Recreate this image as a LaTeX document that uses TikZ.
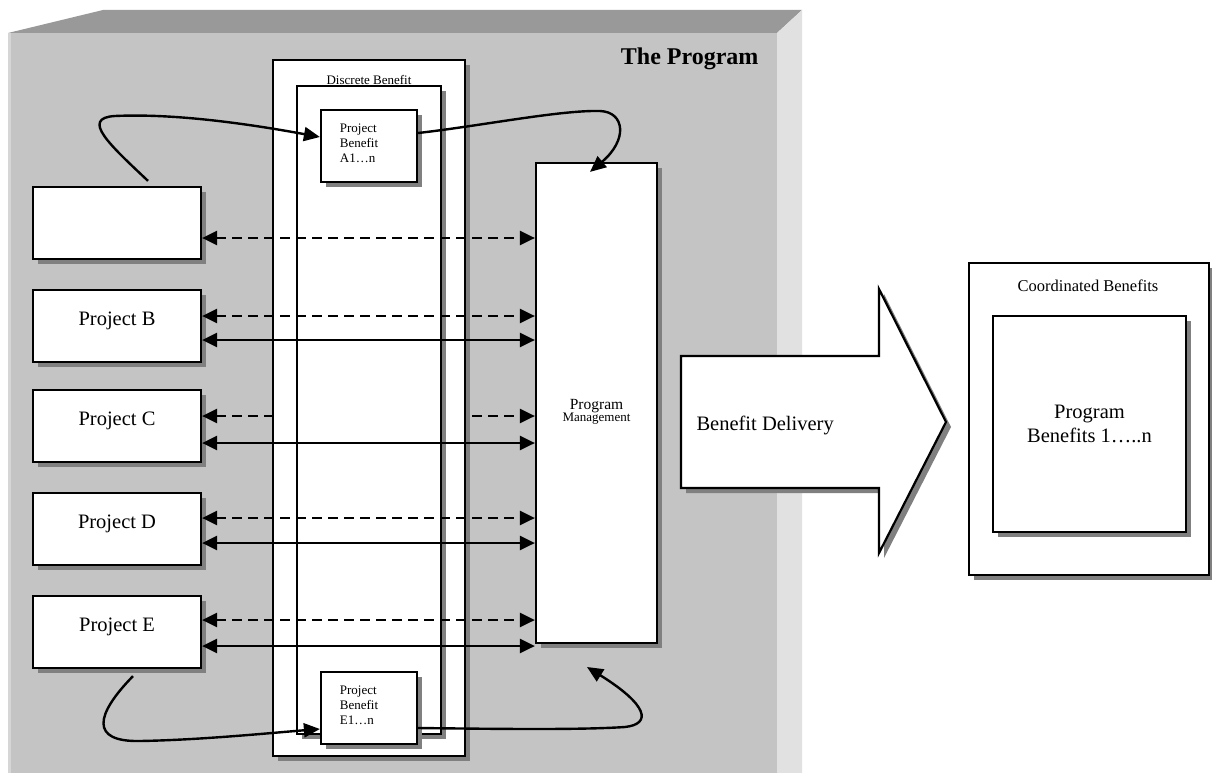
\documentclass[tikz,border=0pt]{standalone}
\usepackage{fontspec}
\setmainfont{Liberation Serif}
\usetikzlibrary{arrows.meta,shadows}

\definecolor{facegray}{RGB}{196,196,196}
\definecolor{topgray}{RGB}{153,153,153}
\definecolor{sidegray}{RGB}{225,225,225}
\definecolor{edgegray}{RGB}{214,214,214}
\definecolor{shadowgray}{RGB}{128,128,128}

\tikzset{
  boxshadow/.style={drop shadow={shadow xshift=5pt,shadow yshift=-5pt,fill=shadowgray,opacity=1}},
  whitebox/.style={draw=black,line width=2.2pt,fill=white,boxshadow,inner sep=0pt},
  projbox/.style={whitebox,minimum width=168pt,minimum height=72pt,
    text height=8pt,text depth=10pt,font=\fontsize{20.5}{24}\selectfont},
  benefitbox/.style={whitebox,minimum width=96pt,minimum height=72pt},
  smalltext/.style={font=\fontsize{13}{15}\selectfont},
  duallink/.style={line width=2.5pt,{Triangle[length=15pt,width=14pt]}-{Triangle[length=15pt,width=14pt]}},
  dashlink/.style={duallink,dash pattern=on 10pt off 6pt},
  curvelink/.style={line width=2.4pt,-{Triangle[length=16pt,width=14pt]}},
}

\begin{document}
\begin{tikzpicture}[x=1pt,y=-1pt]
\useasboundingbox (0,0) rectangle (1212,773);
\fill[white] (0,0) rectangle (1212,773);

% the program: a bevelled block
\fill[topgray] (8,33) -- (103,10) -- (802,10) -- (777,33) -- cycle;
\fill[sidegray] (777,33) -- (802,10) -- (802,773) -- (777,773) -- cycle;
\fill[facegray] (8,33) rectangle (777,773);
\fill[edgegray] (8,33) rectangle (10.5,773);
\node[font=\bfseries\fontsize{24}{28}\selectfont,anchor=base east] (title) at (762,65) {The Program};

% projects
\node[projbox] (pA) at (117,223) {};
\node[projbox] (pB) at (117,326) {Project B};
\node[projbox] (pC) at (117,426) {Project C};
\node[projbox] (pD) at (117,529) {Project D};
\node[projbox] (pE) at (117,632) {Project E};

% program management
\node[whitebox,minimum width=121pt,minimum height=480pt] (pm) at (596.5,403) {};
\node[align=center,inner sep=0pt] (pmtext) at (596.5,412)
  {\fontsize{15.5}{18}\selectfont Program\\{\fontsize{13}{16}\selectfont Management}};

% this dashed link runs beneath the benefit column
\draw[dashlink] ([yshift=10pt]pC.east) -- ([yshift=10pt]pC.east -| pm.west);

% discrete benefit column
\node[whitebox,minimum width=192pt,minimum height=696pt] (outer) at (369,408) {};
\node[whitebox,minimum width=144pt,minimum height=648pt] (inner) at (369,410) {};
\node[smalltext] (dblabel) at (369,80) {Discrete Benefit};

\node[benefitbox] (bA) at (369,146) {};
\node[smalltext,align=left,anchor=west] (bAtext) at ([xshift=16.5pt,yshift=2.5pt]bA.west) {Project\\Benefit\\A1…n};
\node[benefitbox] (bE) at (369,708) {};
\node[smalltext,align=left,anchor=west] (bEtext) at ([xshift=16.5pt,yshift=2.5pt]bE.west) {Project\\Benefit\\E1…n};

% links between projects and program management
\draw[dashlink] ([yshift=-15pt]pA.east) -- ([yshift=-15pt]pA.east -| pm.west);
\draw[dashlink] ([yshift=10pt]pB.east) -- ([yshift=10pt]pB.east -| pm.west);
\draw[duallink] ([yshift=-14pt]pB.east) -- ([yshift=-14pt]pB.east -| pm.west);
\draw[duallink] ([yshift=-17pt]pC.east) -- ([yshift=-17pt]pC.east -| pm.west);
\draw[dashlink] ([yshift=11pt]pD.east) -- ([yshift=11pt]pD.east -| pm.west);
\draw[duallink] ([yshift=-14pt]pD.east) -- ([yshift=-14pt]pD.east -| pm.west);
\draw[dashlink] ([yshift=12pt]pE.east) -- ([yshift=12pt]pE.east -| pm.west);
\draw[duallink] ([yshift=-14pt]pE.east) -- ([yshift=-14pt]pE.east -| pm.west);

% benefit flow curves
\coordinate (pmret) at (587,667);
\draw[curvelink] ([shift={(31pt,5pt)}]pA.north)
  .. controls (110,145) and (80,118) .. (115,116)
  .. controls (180,113) and (260,126) .. ([yshift=9pt]bA.west);
\draw[curvelink] ([yshift=13pt]bA.east)
  .. controls (480,126) and (560,110) .. (600,111)
  .. controls (625,112) and (628,140) .. ([shift={(-6.5pt,-10pt)}]pm.north);
\draw[curvelink] ([shift={(16pt,-7pt)}]pE.south)
  .. controls (95,715) and (90,742) .. (140,741)
  .. controls (200,740) and (270,733) .. ([yshift=-21pt]bE.west);
\draw[curvelink] ([yshift=-20pt]bE.east)
  .. controls (500,729) and (580,730) .. (625,727)
  .. controls (652,724) and (648,705) .. (pmret);

% benefit delivery arrow
\path[draw=black,line width=2.2pt,fill=white,boxshadow]
  (681,356) -- (879,356) -- (879,289) -- (946,422) -- (879,553) -- (879,488) -- (681,488) -- cycle;
\node[font=\fontsize{20.5}{24}\selectfont,anchor=west] (bdtext) at (693,425) {Benefit Delivery};

% coordinated benefits
\node[whitebox,minimum width=240pt,minimum height=312pt] (cb) at (1089,419) {};
\node[font=\fontsize{16.5}{19}\selectfont] (cbtext) at (1088,286) {Coordinated Benefits};
\node[whitebox,minimum width=193pt,minimum height=216pt,align=center,
  font=\fontsize{20.5}{24}\selectfont] (pb) at (1089.5,424) {Program\\Benefits 1…..n};
\end{tikzpicture}
\end{document}
